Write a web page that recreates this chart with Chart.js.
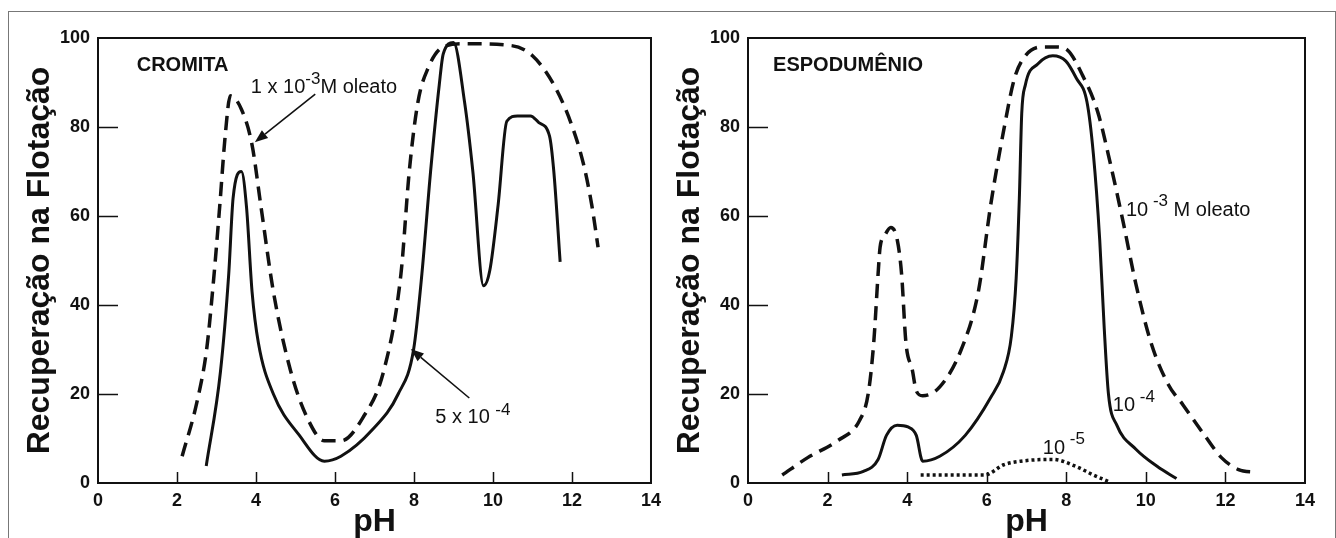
<!DOCTYPE html>
<html>
<head>
<meta charset="utf-8">
<script src="https://cdn.jsdelivr.net/npm/chart.js@4.4.1/dist/chart.umd.min.js"></script>
<style>
  html, body { margin: 0; padding: 0; background: #fff; }
  body { width: 1336px; height: 538px; position: relative; overflow: hidden; }
  .frame { position: absolute; left: 8px; top: 11px; width: 1328px; height: 600px;
           box-sizing: border-box; border: 1px solid #777; border-bottom: none; }
  canvas { position: absolute; top: 0; }
  #cromita { left: 0; }
  #espodumenio { left: 650px; }
</style>
</head>
<body>
<div class="frame"></div>
<canvas id="cromita" width="668" height="538"></canvas>
<canvas id="espodumenio" width="686" height="538"></canvas>
<script>
/* ── Dados: cromita ── */
const cromOleatoPH = [2.13, 2.5, 2.75, 2.92, 3.08, 3.22, 3.35, 3.63, 3.9, 4.12, 4.44, 4.87, 5.3, 5.73, 6.16, 6.7, 7.24, 7.67, 7.88, 8.1, 8.36, 8.74, 9.28, 10.46, 11.0, 11.54, 11.97, 12.29, 12.5, 12.66];
const cromOleatoRec = [6, 18, 30, 45, 62, 78, 87, 84, 76, 62.5, 43, 25.4, 14.6, 9.5, 9.5, 14.6, 25.4, 47, 70, 85.6, 93.3, 98, 98.7, 98.3, 96, 89.5, 81, 71.7, 62.5, 53];

const crom5e4PH = [2.74, 3.1, 3.31, 3.42, 3.63, 3.76, 3.9, 4.06, 4.44, 5.09, 5.73, 6.15, 6.95, 7.6, 7.99, 8.2, 8.42, 8.64, 8.74, 9.0, 9.28, 9.49, 9.76, 9.92, 10.13, 10.35, 10.62, 10.95, 11.16, 11.43, 11.54, 11.7];
const crom5e4Rec = [3.8, 25, 47, 64, 70, 62, 43, 31.5, 20, 10.8, 4.9, 6, 12, 20, 30, 47, 70, 89.5, 96.4, 99, 85.6, 70, 44.3, 47.8, 62.5, 81.3, 82.5, 82.5, 81, 78, 70, 49.7];

/* ── Dados: espodumênio ── */
const espo1e3PH = [0.86, 1.5, 2.25, 2.8, 3.02, 3.16, 3.27, 3.32, 3.43, 3.59, 3.75, 3.86, 3.97, 4.13, 4.23, 4.39, 4.82, 5.36, 5.79, 6.1, 6.43, 6.7, 6.97, 7.4, 7.75, 8.04, 8.41, 8.79, 9.11, 9.43, 9.75, 10.13, 10.56, 10.93, 11.47, 11.9, 12.33, 12.76];
const espo1e3Rec = [1.8, 5.7, 9.5, 14, 20, 31.5, 47, 53, 55.5, 57.4, 54.7, 47, 31.5, 25.4, 20.7, 19.6, 21.6, 30, 43, 62.5, 79.4, 91, 96, 98, 98, 97.2, 91.6, 83.4, 71.7, 58.6, 44.7, 31.5, 22.2, 17.6, 10.8, 5.7, 3, 2.4];

const espo1e4PH = [2.36, 2.9, 3.27, 3.48, 3.75, 4.02, 4.23, 4.39, 4.82, 5.46, 6.1, 6.42, 6.62, 6.74, 6.82, 6.88, 6.97, 7.29, 7.66, 7.99, 8.25, 8.52, 8.68, 8.84, 8.95, 9.06, 9.27, 9.75, 10.29, 10.77];
const espo1e4Rec = [1.8, 2.6, 5.3, 10.7, 13, 12.6, 10.7, 4.9, 6, 10.7, 19.2, 25, 33, 46, 64, 83, 89.4, 94.2, 96, 94.8, 91, 85.6, 74, 54.7, 35.4, 20, 13, 7.6, 3.7, 1];

const espo1e5PH = [4.34, 5.95, 6.43, 6.86, 7.66, 8.25, 8.68, 9.1];
const espo1e5Rec = [1.8, 1.8, 4.1, 4.9, 5.3, 3.7, 1.8, 0.2];

/* ── Eixos ── */
const xMin = 0, xMax = 14, xStep = 2;
const yMin = 0, yMax = 100, yStep = 20;
const xTitle = "pH";
const yTitle = "Recuperação na Flotação";

/* ── Anotações (posição em pH / recuperação) ── */
const cromNotes = [
  { x: 0.98, y: 92.5, parts: [["CROMITA", 20, 0, "bold"]] },
  { x: 3.87, y: 87.6, parts: [["1 x 10", 20, 0], ["-3", 17, 9], ["M oleato", 20, 0]] },
  { x: 8.54, y: 13.5, parts: [["5 x 10 ", 20, 0], ["-4", 17, 8]] },
];
const cromArrows = [
  { from: [5.5, 87.4], to: [3.97, 76.6] },
  { from: [9.4, 19.1], to: [7.92, 30.1] },
];
const espoNotes = [
  { x: 0.63, y: 92.5, parts: [["ESPODUMÊNIO", 20, 0, "bold"]] },
  { x: 9.5, y: 60, parts: [["10", 20, 0], [" -3", 17, 10], [" M oleato", 20, 0]] },
  { x: 9.17, y: 16.2, parts: [["10", 20, 0], [" -4", 17, 9]] },
  { x: 7.41, y: 6.6, parts: [["10", 20, 0], [" -5", 17, 10]] },
];

const FONT = "'Liberation Sans', Arial, sans-serif";
const INK = "#111";

const pts = (xs, ys) => xs.map((x, i) => ({ x, y: ys[i] }));

/* moldura + marcas internas */
const frameTicks = {
  id: "frameTicks",
  afterDatasetsDraw(chart) {
    const { ctx, chartArea: a, scales: { x, y } } = chart;
    ctx.save();
    ctx.strokeStyle = INK;
    ctx.lineWidth = 2;
    ctx.strokeRect(a.left, a.top, a.right - a.left, a.bottom - a.top);
    ctx.lineWidth = 1.5;
    ctx.beginPath();
    y.ticks.forEach((t) => {
      if (t.value <= yMin || t.value >= yMax) return;
      const py = Math.round(y.getPixelForValue(t.value)) + 0.5;
      ctx.moveTo(a.left, py);
      ctx.lineTo(a.left + 20, py);
    });
    x.ticks.forEach((t) => {
      if (t.value <= xMin || t.value >= xMax) return;
      const px = Math.round(x.getPixelForValue(t.value)) + 0.5;
      ctx.moveTo(px, a.bottom);
      ctx.lineTo(px, a.bottom - 11);
    });
    ctx.stroke();
    ctx.restore();
  },
};

/* textos e setas */
const notes = {
  id: "notes",
  afterDraw(chart, args, opts) {
    const { ctx, scales: { x, y } } = chart;
    ctx.save();
    ctx.fillStyle = INK;
    ctx.textBaseline = "alphabetic";
    ctx.textAlign = "left";
    (opts.items || []).forEach((n) => {
      let px = x.getPixelForValue(n.x);
      const py = y.getPixelForValue(n.y);
      n.parts.forEach(([txt, size, raise, weight]) => {
        ctx.font = (weight || "normal") + " " + size + "px " + FONT;
        ctx.fillText(txt, px, py - raise);
        px += ctx.measureText(txt).width;
      });
    });
    ctx.strokeStyle = INK;
    ctx.lineWidth = 1.6;
    (opts.arrows || []).forEach((ar) => {
      const x1 = x.getPixelForValue(ar.from[0]), y1 = y.getPixelForValue(ar.from[1]);
      const x2 = x.getPixelForValue(ar.to[0]), y2 = y.getPixelForValue(ar.to[1]);
      const ang = Math.atan2(y2 - y1, x2 - x1);
      const hl = 13, hw = 5;
      const bx = x2 - hl * Math.cos(ang), by = y2 - hl * Math.sin(ang);
      ctx.beginPath();
      ctx.moveTo(x1, y1);
      ctx.lineTo(bx, by);
      ctx.stroke();
      ctx.beginPath();
      ctx.moveTo(x2, y2);
      ctx.lineTo(bx + hw * Math.sin(ang), by - hw * Math.cos(ang));
      ctx.lineTo(bx - hw * Math.sin(ang), by + hw * Math.cos(ang));
      ctx.closePath();
      ctx.fill();
    });
    ctx.restore();
  },
};

function serie(data, dash, width) {
  return {
    data,
    borderColor: INK,
    borderWidth: width || 3,
    borderDash: dash || [],
    borderCapStyle: "butt",
    pointRadius: 0,
    fill: false,
    cubicInterpolationMode: "monotone",
  };
}

function makeChart(id, datasets, items, arrows, padRight) {
  const tickFont = { family: FONT, size: 18, weight: "bold" };
  return new Chart(document.getElementById(id), {
    type: "line",
    data: { datasets },
    plugins: [frameTicks, notes],
    options: {
      responsive: false,
      animation: false,
      events: [],
      layout: { padding: { top: 38, right: padRight, left: 0, bottom: 0 } },
      plugins: {
        legend: { display: false },
        tooltip: { enabled: false },
        notes: { items, arrows },
      },
      scales: {
        x: {
          type: "linear",
          min: xMin,
          max: xMax,
          ticks: { stepSize: xStep, padding: 7, color: INK, font: tickFont, maxRotation: 0 },
          grid: { display: false, drawTicks: false },
          border: { display: false },
          title: {
            display: true,
            text: xTitle,
            color: INK,
            font: { family: FONT, size: 32, weight: "bold", lineHeight: 1 },
            padding: { top: 0, bottom: 0 },
          },
          afterFit(s) { s.height = 55; },
        },
        y: {
          min: yMin,
          max: yMax,
          ticks: { stepSize: yStep, padding: 8, color: INK, font: tickFont },
          grid: { display: false, drawTicks: false },
          border: { display: false },
          title: {
            display: true,
            text: yTitle,
            color: INK,
            font: { family: FONT, size: 32, weight: "bold", lineHeight: 1.2 },
            padding: { top: 21, bottom: 0 },
          },
          afterFit(s) { s.width = 98; },
        },
      },
    },
  });
}

makeChart("cromita", [
  serie(pts(cromOleatoPH, cromOleatoRec), [14, 8], 3.5),
  serie(pts(crom5e4PH, crom5e4Rec), [], 3),
], cromNotes, cromArrows, 13);

makeChart("espodumenio", [
  serie(pts(espo1e3PH, espo1e3Rec), [14, 8], 3.5),
  serie(pts(espo1e4PH, espo1e4Rec), [], 3),
  serie(pts(espo1e5PH, espo1e5Rec), [3, 3], 3.5),
], espoNotes, [], 31);
</script>
</body>
</html>
